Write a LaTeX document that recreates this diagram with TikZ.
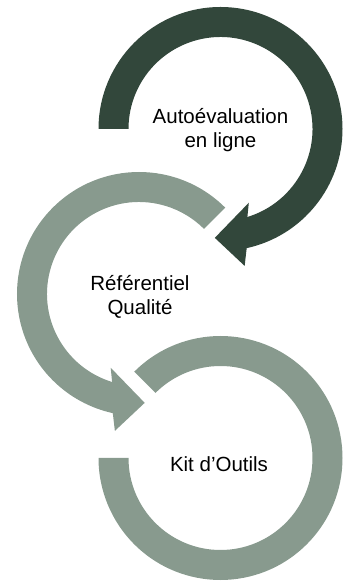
\documentclass[tikz,border=0pt]{standalone}
\usepackage{fontspec}
\setmainfont{Liberation Sans}
\definecolor{darkgreen}{HTML}{32473B}
\definecolor{sagegray}{HTML}{889A8E}
\begin{document}
\begin{tikzpicture}[x=1pt,y=1pt,
  darkarc/.style={fill=darkgreen,draw=none},
  grayarc/.style={fill=sagegray,draw=none},
  lbl/.style={align=center,font=\fontsize{20.5pt}{24pt}\selectfont,text=black,inner sep=0pt}]
\useasboundingbox (0,0) rectangle (350,581);
% circle 3 (bottom)
\coordinate (c3) at (220.5,123);
\path[grayarc,shift={(c3)}] (135:122pt) arc[start angle=135,end angle=-180,radius=122pt]
  -- (180:92pt) arc[start angle=-180,end angle=135,radius=92pt] -- cycle;
% circle 2 (middle)
\coordinate (c2) at (139,287);
\path[grayarc,shift={(c2)}] (45:122pt) arc[start angle=45,end angle=257.6,radius=122pt]
  -- (260:139pt) -- (273:109pt) -- (249:79pt) -- (253:92pt)
  arc[start angle=253,end angle=45,radius=92pt] -- cycle;
% circle 1 (top)
\coordinate (c1) at (220.5,452);
\path[darkarc,shift={(c1)}] (180:122pt) arc[start angle=180,end angle=-77.6,radius=122pt]
  -- (-80:139pt) -- (-93:109pt) -- (-69:79pt) -- (-73:92pt)
  arc[start angle=-73,end angle=180,radius=92pt] -- cycle;
\node[lbl] (t1) at (220.5,451) {Autoévaluation\\en ligne};
\node[lbl] (t2) at (140,284) {Référentiel\\Qualité};
\node[lbl] (t3) at (219,117) {Kit d’Outils};
\end{tikzpicture}
\end{document}
